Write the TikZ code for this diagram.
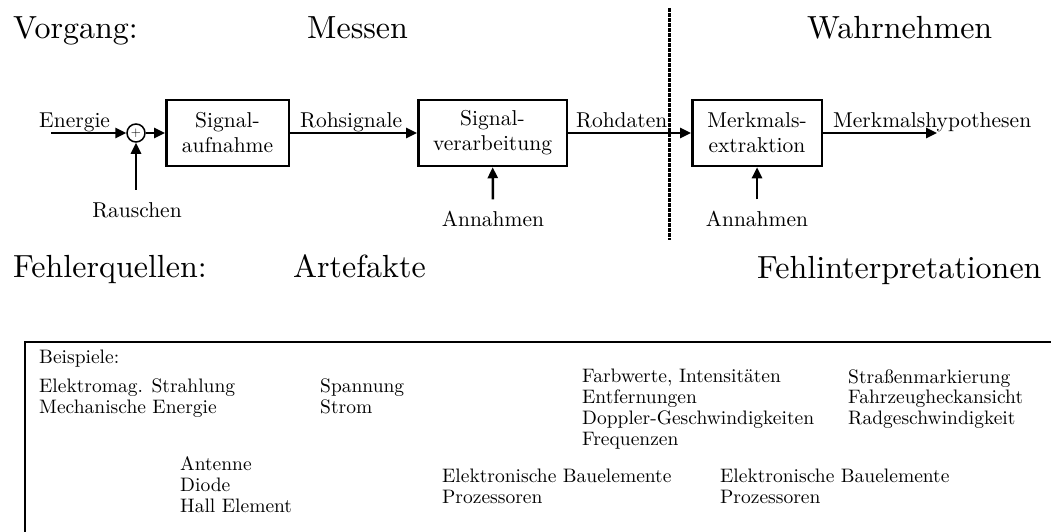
\documentclass[tikz,border=0pt]{standalone}
\usepackage{fontspec}
\setmainfont{lmroman10-regular.otf}
\usetikzlibrary{positioning, arrows.meta, calc}

\begin{document}
\begin{tikzpicture}[
			x=1pt, y=-1pt,
			box/.style={rectangle, draw, line width=2.5pt, minimum width=122.5pt, minimum height=66pt, align=center, inner sep=0pt, font=\fontsize{21.5}{25}\selectfont},
			arrow/.style={-{Triangle[length=11pt, width=10pt]}, line width=2.5pt},
			divider/.style={line width=3pt, dash pattern=on 3.5pt off 1.5pt},
			heading/.style={font=\fontsize{32}{38}\selectfont, inner sep=0pt, anchor=base west},
			sigtext/.style={font=\fontsize{21.5}{25}\selectfont, inner sep=0pt, anchor=base west},
			example/.style={font=\fontsize{19.5}{20.7}\selectfont, inner sep=0pt, anchor=base west, align=left}
			]
			\clip (0,0) rectangle (1051,531);
			
			% Headings
			\node (vorgang) [heading] at (13,38) {Vorgang:};
			\node (messen) [heading] at (307,38) {Messen};
			\node (wahrnehmen) [heading] at (807,38) {Wahrnehmen};
			\node (fehlerq) [heading] at (13,277) {Fehlerquellen:};
			\node (artefakte) [heading] at (293,277) {Artefakte};
			\node (fehlint) [heading] at (757,278) {Fehlinterpretationen};
			
			% Signal chain
			\node (sum) [circle, draw, line width=1.5pt, minimum size=18pt, inner sep=0pt, font=\fontsize{13}{13}\selectfont] at (136,133) {+};
			\node (aufnahme) [box] at (227.5,133) {Signal-\\aufnahme};
			\node (verarb) [box, minimum width=148.5pt] at (492.5,133) {Signal-\\verarbeitung};
			\node (extrakt) [box, minimum width=129.5pt] at (757,133) {Merkmals-\\extraktion};
			\coordinate (energiein) at (51,133);
			\coordinate (hypout) at (937,133);
			
			\node (energie) [sigtext] at (39,127) {Energie};
			\node (rohsig) [sigtext] at (300,127) {Rohsignale};
			\node (rohdat) [sigtext] at (576,127) {Rohdaten};
			\node (hypo) [sigtext] at (833,127) {Merkmalshypothesen};
			\node (rauschen) [sigtext, anchor=base] at (137,217) {Rauschen};
			\node (annahmen1) [sigtext, anchor=base] at (493,226) {Annahmen};
			\node (annahmen2) [sigtext, anchor=base] at (757,226) {Annahmen};
			
			% Arrows
			\draw [arrow] (energiein) -- (sum);
			\draw [arrow] (sum) -- (aufnahme);
			\draw [arrow] (aufnahme) -- (verarb);
			\draw [arrow] (verarb) -- (extrakt);
			\draw [arrow] (extrakt) -- (hypout);
			\draw [arrow, shorten <=12pt] (rauschen.north -| sum) -- (sum);
			\draw [arrow, shorten <=11pt] (annahmen1) -- (verarb);
			\draw [arrow, shorten <=11pt] (annahmen2) -- (extrakt);
			
			% Divider
			\coordinate (divtop) at (669,8);
			\coordinate (divbot) at (669,240);
			\draw [divider] (divtop) -- (divbot);
			
			% Examples
			\draw [line width=2pt] (25,342) rectangle (1080,560);
			\node (beisp) [example] at (39,363) {Beispiele:};
			\node (physik) [example] at (39,413) {Elektromag. Strahlung\\Mechanische Energie};
			\node (elektr) [example] at (320,413) {Spannung\\Strom};
			\node (merkm) [example] at (582,445) {Farbwerte, Intensitäten\\Entfernungen\\Doppler-Geschwindigkeiten\\Frequenzen};
			\node (objekte) [example] at (848,424.5) {Straßenmarkierung\\Fahrzeugheckansicht\\Radgeschwindigkeit};
			\node (sensor) [example] at (180,512) {Antenne\\Diode\\Hall Element};
			\node (hwmess) [example] at (442,503) {Elektronische Bauelemente\\Prozessoren};
			\node (hwwahr) [example] at (720,503) {Elektronische Bauelemente\\Prozessoren};
		\end{tikzpicture}
\end{document}
